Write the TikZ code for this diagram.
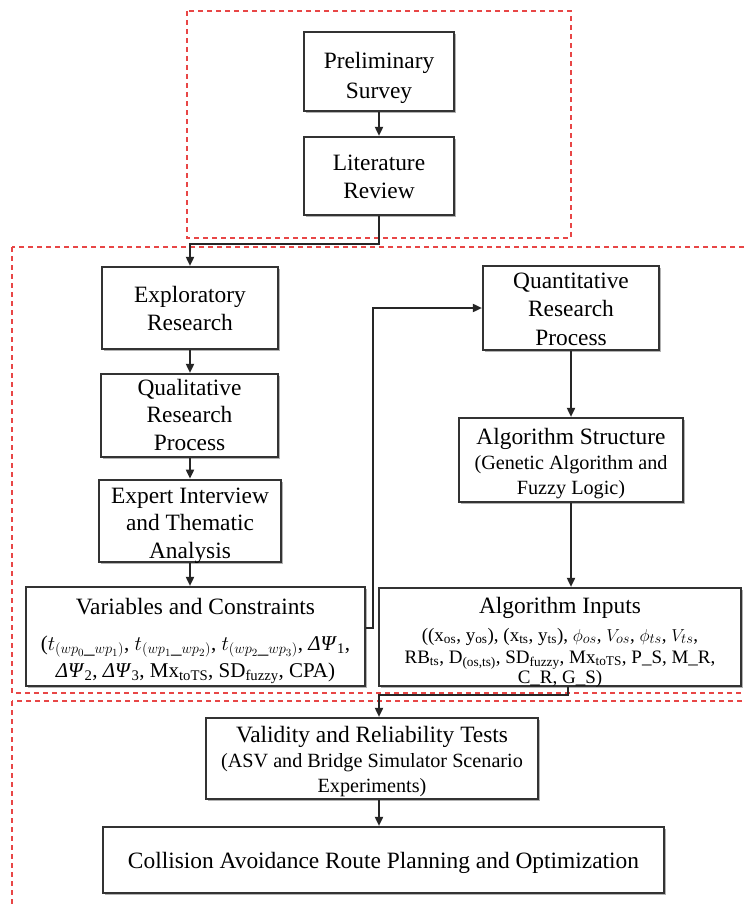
\documentclass[tikz,border=0pt]{standalone}
\usepackage{fontspec}
\setmainfont{Liberation Serif}
\usetikzlibrary{arrows.meta,shadows,calc}
\newcommand\fA{\fontsize{23.4}{27.5}\selectfont}
\newcommand\fS{\fontsize{20.2}{25}\selectfont}
\newcommand\fB{\fontsize{21}{29}\selectfont}
\newcommand\fC{\fontsize{19}{21.5}\selectfont}
\newcommand\tb[2][0pt]{\raisebox{-#1}[\height][\depth]{\begin{tabular}{@{}c@{}}#2\end{tabular}}}
\definecolor{regred}{RGB}{232,70,70}
\begin{document}
\begin{tikzpicture}[x=1pt,y=-1pt,
  stepbox/.style={draw=black!80,line width=2.2pt,fill=white,inner sep=0pt,font=\fA,
    drop shadow={shadow xshift=2pt,shadow yshift=-2pt,opacity=0.3,fill=black}},
  conn/.style={draw=black!85,line width=1.8pt,-{Triangle[length=9pt,width=8pt]}},
  region/.style={draw=regred,line width=1.4pt,dash pattern=on 5pt off 4pt}]
\useasboundingbox (0,0) rectangle (744,907);
\clip (0,0) rectangle (744,907);
\fill[white] (0,0) rectangle (744,907);
% regions
\draw[region] (187,11) rectangle (571,238);
\draw[region] (12,247) rectangle (760,693);
\draw[region] (12,701) rectangle (760,930);
% boxes
\node[stepbox,minimum width=150pt,minimum height=79pt] (pre) at (379,71.5) {\tb[6pt]{Preliminary\\[2.5pt]Survey}};
\node[stepbox,minimum width=150pt,minimum height=78pt] (lit) at (379,176) {\tb[2.5pt]{Literature\\[0.5pt]Review}};
\node[stepbox,minimum width=176pt,minimum height=82pt] (exp) at (190,308) {\tb[3pt]{Exploratory\\Research}};
\node[stepbox,minimum width=177pt,minimum height=83pt] (qual) at (189.5,415.5) {\tb[1.5pt]{Qualitative\\Research\\Process}};
\node[stepbox,minimum width=182pt,minimum height=82pt] (expert) at (190,521) {\tb[4pt]{Expert Interview\\and Thematic\\Analysis}};
\node[stepbox,minimum width=339pt,minimum height=99pt] (vars) at (195.5,636.5)
  {\tb[4pt]{Variables and Constraints\\[8.5pt]
   {\fB ($t_{(wp_0\_wp_1)}$, $t_{(wp_1\_wp_2)}$, $t_{(wp_2\_wp_3)}$, \textit{ΔΨ}\textsubscript{1},}\\
   {\fB \textit{ΔΨ}\textsubscript{2}, \textit{ΔΨ}\textsubscript{3}, Mx\textsubscript{toTS}, SD\textsubscript{fuzzy}, CPA)}}};
\node[stepbox,minimum width=176pt,minimum height=82pt] (quant) at (571,308) {\tb[3pt]{Quantitative\\[1pt]Research\\[1pt]Process}};
\node[stepbox,minimum width=224pt,minimum height=84pt] (algs) at (571,460)
  {\tb[3.5pt]{Algorithm Structure\\[-2.5pt] {\fS (Genetic Algorithm and}\\[-2.5pt] {\fS Fuzzy Logic)}}};
\node[stepbox,minimum width=362pt,minimum height=98pt] (ai) at (560,637)
  {\tb[5.5pt]{Algorithm Inputs\\[0.5pt]
   {\fC ((x\textsubscript{os}, y\textsubscript{os}), (x\textsubscript{ts}, y\textsubscript{ts}), $\phi_{os}$, $V_{os}$, $\phi_{ts}$, $V_{ts}$,}\\[-5.5pt]
   {\fC RB\textsubscript{ts}, D\textsubscript{(os,ts)}, SD\textsubscript{fuzzy}, Mx\textsubscript{toTS}, P\_S, M\_R,}\\[-7.5pt]
   {\fC C\_R, G\_S)}}};
\node[stepbox,minimum width=332pt,minimum height=81pt] (val) at (372,758.5)
  {\tb[3pt]{Validity and Reliability Tests\\[-2.5pt] {\fS (ASV and Bridge Simulator Scenario}\\[-2.5pt] {\fS Experiments)}}};
\node[stepbox,minimum width=561pt,minimum height=66pt] (col) at (383.5,860)
  {\tb[2.5pt]{Collision Avoidance Route Planning and Optimization}};
% connectors
\draw[conn] (pre.south) -- (lit.north);
\draw[conn] (lit.south) -- ++(0,28) -| (exp.north);
\draw[conn] (exp.south) -- (exp.south |- qual.north);
\draw[conn] (exp.south |- qual.south) -- (exp.south |- expert.north);
\draw[conn] (exp.south |- expert.south) -- (exp.south |- vars.north);
\draw[conn] ($(vars.east)+(0,-8.5)$) -- ++(7,0) |- (quant.west);
\draw[conn] (quant.south) -- (algs.north);
\draw[conn] (algs.south) -- (algs.south |- ai.north);
\coordinate (aiout) at ($(ai.south)+(8,0)$);
\coordinate (valin) at ($(val.north)+(7,0)$);
\draw[conn] (aiout) |- ($(valin)+(0,-22)$) -- (valin);
\draw[conn] (valin |- val.south) -- (valin |- col.north);
\end{tikzpicture}
\end{document}
